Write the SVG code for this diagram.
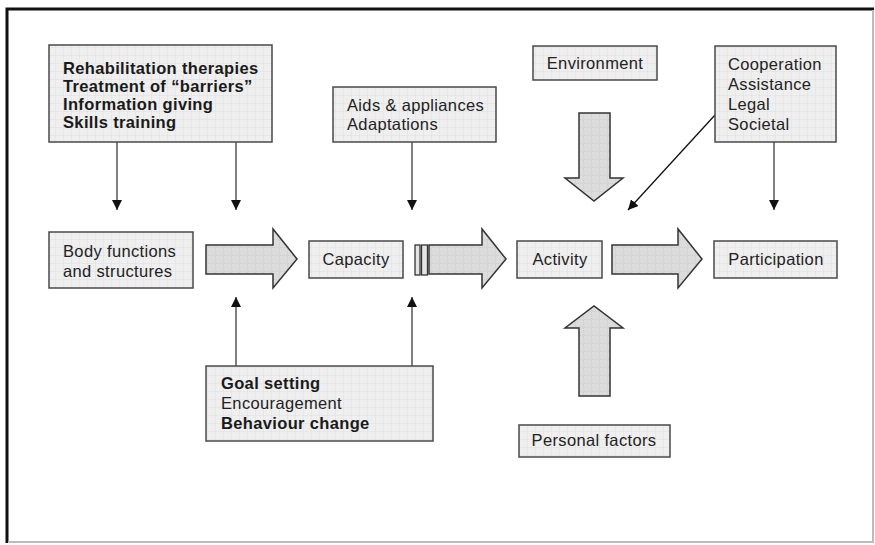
<svg xmlns="http://www.w3.org/2000/svg" width="875" height="545" viewBox="0 0 875 545">
  <defs>
    <!-- faint grid used inside the boxes -->
    <pattern id="boxGrid" width="8" height="8" patternUnits="userSpaceOnUse">
      <rect width="8" height="8" fill="#efefef"/>
      <path d="M8 0V8M0 8H8" stroke="#e0e0e0" stroke-width="1" fill="none"/>
    </pattern>
    <!-- dotted grid used inside the block arrows -->
    <pattern id="arrowGrid" width="8" height="8" patternUnits="userSpaceOnUse">
      <rect width="8" height="8" fill="#dcdcdc"/>
      <path d="M7.5 0V8M0 7.5H8" stroke="#cdcdcd" stroke-width="1" stroke-dasharray="1 1" fill="none"/>
    </pattern>
    <marker id="tip" viewBox="0 0 10 10" refX="10" refY="5" markerWidth="10" markerHeight="10" markerUnits="userSpaceOnUse" orient="auto">
      <path d="M0 0L10 5L0 10Z" fill="#111"/>
    </marker>
    <style>
      .box { fill: url(#boxGrid); stroke: #4a4a4a; stroke-width: 1.5; }
      .big { fill: url(#arrowGrid); stroke: #333; stroke-width: 1.5; stroke-linejoin: miter; }
      .t { font-family: "Liberation Sans", Arial, sans-serif; font-size: 16.5px; letter-spacing: 0.35px; fill: #222; }
      .b { font-weight: bold; fill: #1a1a1a; }
      .mid { text-anchor: middle; }
      .link { stroke: #555; stroke-width: 1.5; fill: none; marker-end: url(#tip); }
      .diag { stroke: #111; stroke-width: 1.3; fill: none; marker-end: url(#tip); }
    </style>
  </defs>

  <!-- page frame -->
  <rect x="0" y="0" width="875" height="545" fill="#fff"/>
  <path d="M7 543V9H874" stroke="#111" stroke-width="3" fill="none"/>
  <path d="M873 10V542H8" stroke="#bbb" stroke-width="2" fill="none"/>

  <!-- connectors -->
  <g id="connectors">
    <line class="link" x1="117" y1="142" x2="117" y2="210"/>
    <line class="link" x1="236" y1="142" x2="236" y2="210"/>
    <line class="link" x1="412" y1="142" x2="412" y2="210"/>
    <line class="link" x1="774" y1="142" x2="774" y2="210"/>
    <line class="diag" x1="715" y1="115" x2="628" y2="210"/>
    <line class="link" x1="236" y1="366" x2="236" y2="297"/>
    <line class="link" x1="412" y1="366" x2="412" y2="297"/>

    <!-- block arrows -->
    <path class="big" d="M206 245H273V229L297 259L273 288V274H206Z"/>
    <rect x="415" y="245" width="5" height="30" fill="#e4e4e4" stroke="#333" stroke-width="1.3"/>
    <rect x="421.5" y="245" width="6" height="30" fill="#e4e4e4" stroke="#333" stroke-width="1.3"/>
    <path class="big" d="M429 245H482V229L506 259L482 288V274H429Z"/>
    <path class="big" d="M612 245H678V229L702 259L678 288V274H612Z"/>
    <path class="big" d="M579 113H610V178H623L594 201L565 178H579Z"/>
    <path class="big" d="M579 396H610V328H623L594 306L565 328H579Z"/>
  </g>

  <g id="rehab">
    <rect class="box" x="49" y="45" width="223" height="97"/>
    <text class="t b" x="63" y="74">Rehabilitation therapies</text>
    <text class="t b" x="63" y="92">Treatment of “barriers”</text>
    <text class="t b" x="63" y="110">Information giving</text>
    <text class="t b" x="63" y="128">Skills training</text>
  </g>

  <g id="aids">
    <rect class="box" x="333" y="87" width="163" height="55"/>
    <text class="t" x="347" y="111">Aids &amp; appliances</text>
    <text class="t" x="347" y="130">Adaptations</text>
  </g>

  <g id="environment">
    <rect class="box" x="533" y="46" width="124" height="34"/>
    <text class="t mid" x="595" y="69">Environment</text>
  </g>

  <g id="cooperation">
    <rect class="box" x="715" y="46" width="121" height="96"/>
    <text class="t" x="728" y="70">Cooperation</text>
    <text class="t" x="728" y="90">Assistance</text>
    <text class="t" x="728" y="110">Legal</text>
    <text class="t" x="728" y="130">Societal</text>
  </g>

  <g id="body">
    <rect class="box" x="49" y="232" width="144" height="56"/>
    <text class="t" x="63" y="257">Body functions</text>
    <text class="t" x="63" y="277">and structures</text>
  </g>

  <g id="capacity">
    <rect class="box" x="309" y="241" width="94" height="37"/>
    <text class="t mid" x="356" y="265">Capacity</text>
  </g>

  <g id="activity">
    <rect class="box" x="517" y="241" width="85" height="37"/>
    <text class="t mid" x="560" y="265">Activity</text>
  </g>

  <g id="participation">
    <rect class="box" x="714" y="241" width="123" height="37"/>
    <text class="t mid" x="776" y="265">Participation</text>
  </g>

  <g id="goal">
    <rect class="box" x="206" y="366" width="227" height="75"/>
    <text class="t b" x="221" y="389">Goal setting</text>
    <text class="t" x="221" y="409">Encouragement</text>
    <text class="t b" x="221" y="429">Behaviour change</text>
  </g>

  <g id="personal">
    <rect class="box" x="519" y="425" width="151" height="32"/>
    <text class="t mid" x="594" y="446">Personal factors</text>
  </g>
</svg>
